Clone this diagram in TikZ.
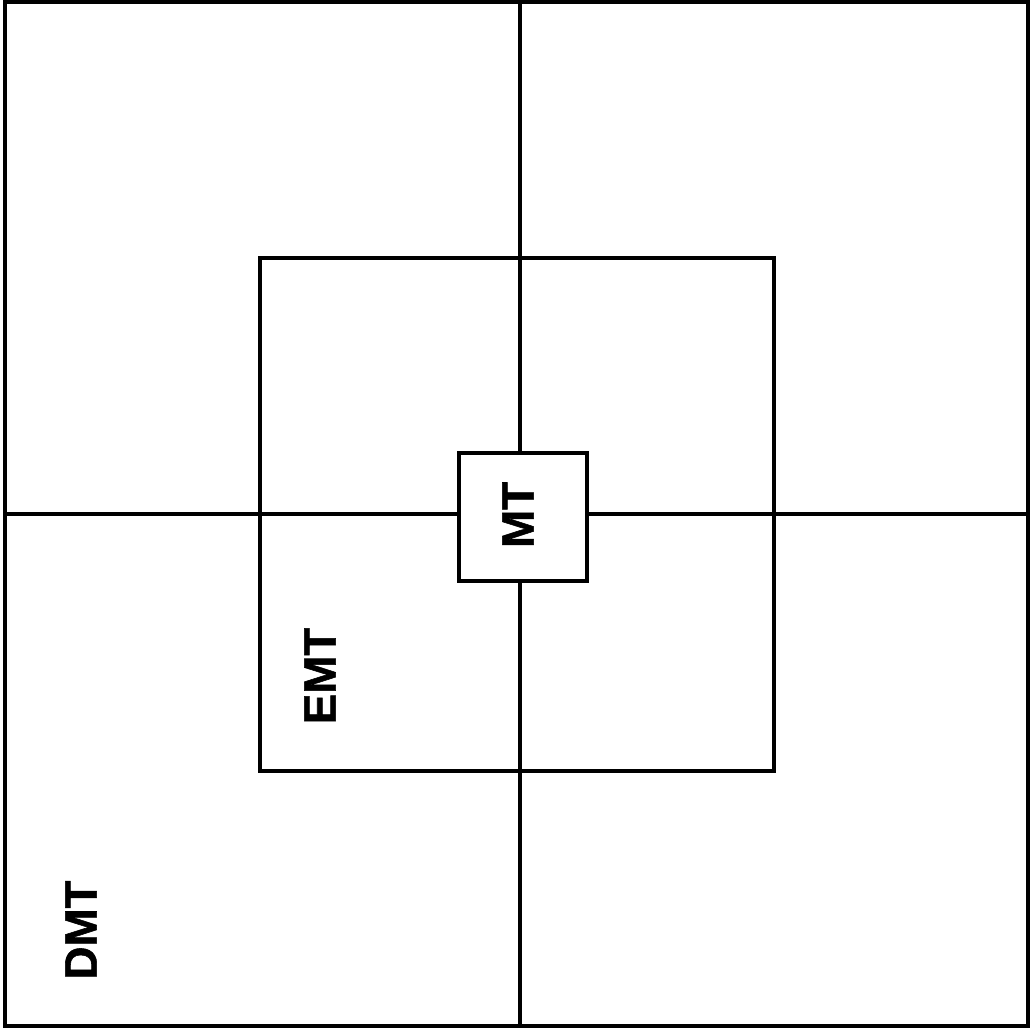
\documentclass[tikz,border=0pt]{standalone}
\usepackage{fontspec}
\setmainfont{Liberation Sans}
\newfontfamily\heavyfont[FakeBold=1.2]{Liberation Sans Bold}
\usepackage{tikz}
\usetikzlibrary{positioning}

\begin{document}
\begin{tikzpicture}[
		x=0.02cm,y=-0.02cm,
		line width=2pt,
		every node/.style={font=\heavyfont\fontsize{26}{30}\selectfont},
		zonelabel/.style={rotate=90, inner sep=0pt}
		]
		
		\useasboundingbox (0,0) rectangle (1031,1030);
		
		% =========================
		% Outer box and the two axes
		% =========================
		\draw (5,2) rectangle (1028,1026);
		\coordinate (top) at (520,2);
		\coordinate (bottom) at (520,1026);
		\coordinate (left) at (5,514);
		\coordinate (right) at (1028,514);
		\draw (top) -- (bottom);
		\draw (left) -- (right);
		
		% =========================
		% Middle square
		% =========================
		\draw (260,258) rectangle (774,771);
		
		% =========================
		% Inner square, covers the axes
		% =========================
		\draw[fill=white] (459,453) rectangle (587,581);
		
		% labels
		\node[zonelabel] (mt) at (518,515) {MT};
		\node[zonelabel] (emt) at (320,676) {EMT};
		\node[zonelabel] (dmt) at (81,930) {DMT};
		
	\end{tikzpicture}
\end{document}
